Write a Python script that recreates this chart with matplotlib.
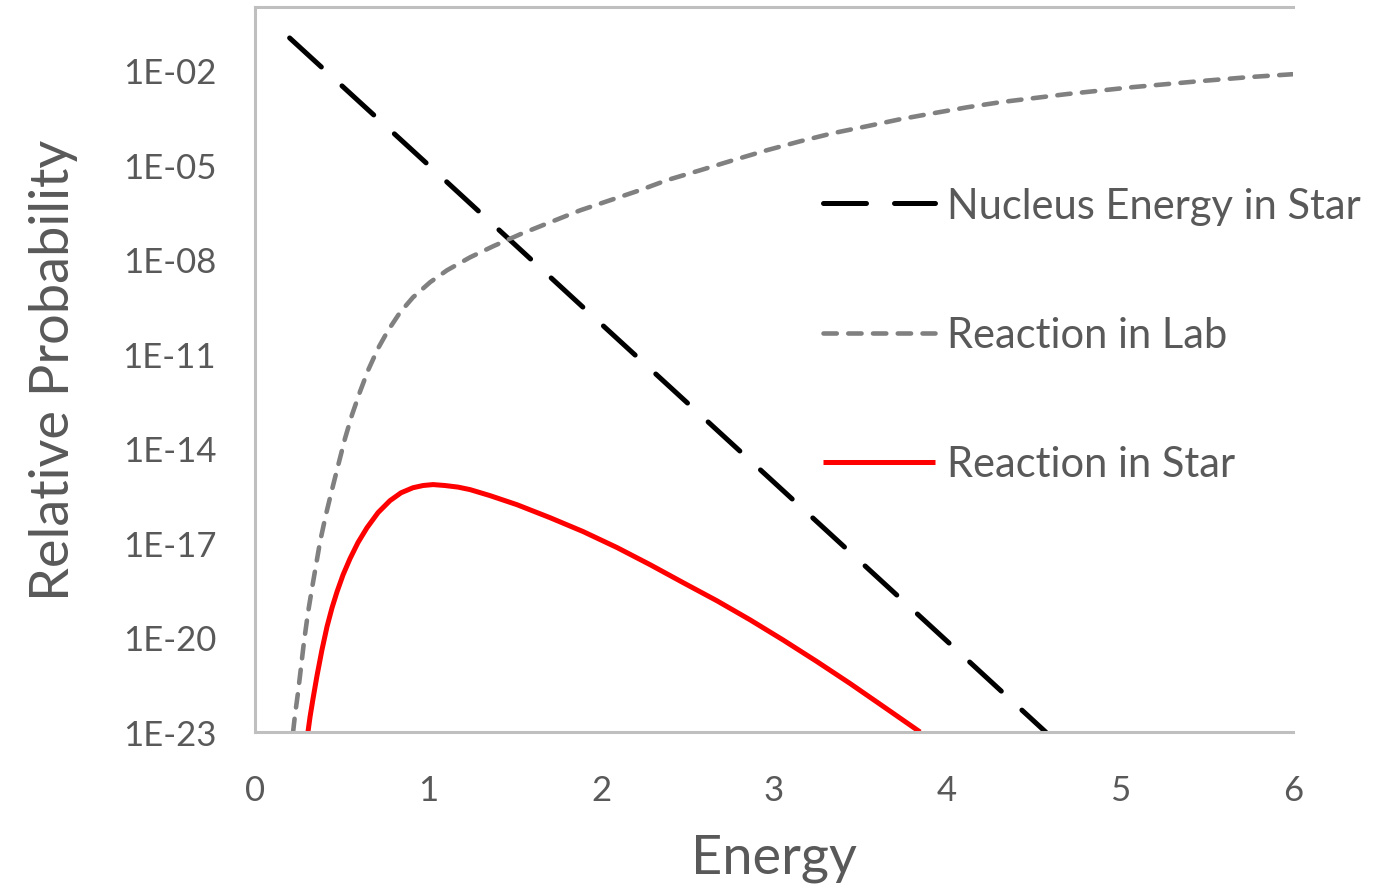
"""Relative probability vs energy (log scale) - Gamow peak style chart."""

import matplotlib
matplotlib.use("Agg")
import matplotlib.pyplot as plt
import numpy as np

TXT = "#595959"
SPINE = "#BFBFBF"
C_STAR = "#000000"
C_LAB = "#808080"
C_REACT = "#FF0000"

# values: energy, log10(relative probability)
nucleus_e = [0.20, 1.0, 2.0, 3.0, 4.0, 4.57]
nucleus_log = [-0.98, -5.0, -10.05, -15.08, -20.12, -23.0]

lab_e = [0.220, 0.231, 0.249, 0.266, 0.283, 0.306, 0.330, 0.353, 0.376, 0.410,
         0.445, 0.480, 0.520, 0.561, 0.607, 0.653, 0.711, 0.769, 0.838, 0.913,
         1.012, 1.110, 1.243, 1.376, 1.532, 1.705, 1.879, 2.052, 2.225, 2.382,
         2.572, 2.763, 2.960, 3.150, 3.341, 3.538, 3.728, 3.919, 4.116, 4.306,
         4.694, 5.075, 5.462, 5.751, 6.0]
lab_log = [-23.00, -22.46, -21.73, -20.93, -20.14, -19.22, -18.42, -17.69, -16.96, -16.10,
           -15.31, -14.55, -13.69, -12.93, -12.20, -11.53, -10.83, -10.26, -9.69, -9.21,
           -8.73, -8.35, -7.94, -7.59, -7.21, -6.83, -6.45, -6.13, -5.81, -5.49,
           -5.18, -4.86, -4.54, -4.26, -4.00, -3.78, -3.56, -3.37, -3.18, -3.02,
           -2.76, -2.54, -2.35, -2.22, -2.13]

react_e = [0.306, 0.318, 0.335, 0.358, 0.387, 0.416, 0.445, 0.474, 0.509, 0.549,
           0.595, 0.647, 0.711, 0.780, 0.844, 0.913, 0.971, 1.029, 1.098, 1.173,
           1.243, 1.358, 1.515, 1.705, 1.896, 2.093, 2.283, 2.474, 2.671, 2.861,
           3.052, 3.249, 3.439, 3.642, 3.844]
react_log = [-23.00, -22.52, -21.95, -21.22, -20.39, -19.66, -19.06, -18.55, -18.01, -17.50,
             -16.99, -16.52, -16.04, -15.66, -15.41, -15.25, -15.18, -15.15, -15.18, -15.23,
             -15.31, -15.50, -15.79, -16.20, -16.64, -17.15, -17.69, -18.26, -18.84, -19.44,
             -20.08, -20.77, -21.46, -22.23, -23.00]

ytick_exp = [-23, -20, -17, -14, -11, -8, -5, -2]
xticks = [0, 1, 2, 3, 4, 5, 6]

plt.rcParams["font.family"] = ["Lato", "DejaVu Sans"]

fig = plt.figure(figsize=(13.83, 8.95), dpi=100)
ax = fig.add_axes([0.1844, 0.181, 0.7506, 0.810])

ax.plot(nucleus_e, 10.0 ** np.array(nucleus_log), color=C_STAR, lw=3.6,
        dashes=(8.6, 5.6), dash_capstyle="round", label="Nucleus Energy in Star")
ax.plot(lab_e, 10.0 ** np.array(lab_log), color=C_LAB, lw=3.3,
        dashes=(2.9, 2.5), dash_capstyle="round", label="Reaction in Lab")
ax.plot(react_e, 10.0 ** np.array(react_log), color=C_REACT, lw=3.6,
        solid_capstyle="butt", solid_joinstyle="round", label="Reaction in Star")

ax.set_yscale("log")
ax.set_xlim(0, 6)
ax.set_ylim(1e-23, 1)
ax.set_yticks([10.0 ** e for e in ytick_exp])
ax.set_yticklabels([f"1E{e:03d}" for e in ytick_exp])
ax.yaxis.set_minor_locator(matplotlib.ticker.NullLocator())
ax.set_xticks(xticks)
ax.set_xticklabels([str(t) for t in xticks])

ax.tick_params(axis="both", length=0, labelsize=25, labelcolor=TXT)
ax.tick_params(axis="x", pad=30)
ax.tick_params(axis="y", pad=28)

for side in ["left", "bottom", "top"]:
    ax.spines[side].set_color(SPINE)
    ax.spines[side].set_linewidth(2.2)
ax.spines["right"].set_visible(False)

ax.set_xlabel("Energy", fontsize=39, color=TXT, labelpad=20)
ax.set_ylabel("Relative Probability", fontsize=39, color=TXT, labelpad=32)

leg = ax.legend(loc="upper left", bbox_to_anchor=(0.531, 0.775), frameon=False,
                fontsize=30, handlelength=2.7, handletextpad=0.29,
                labelspacing=2.19, borderaxespad=0)
for t in leg.get_texts():
    t.set_color(TXT)

fig.savefig("out.png", dpi=100)
